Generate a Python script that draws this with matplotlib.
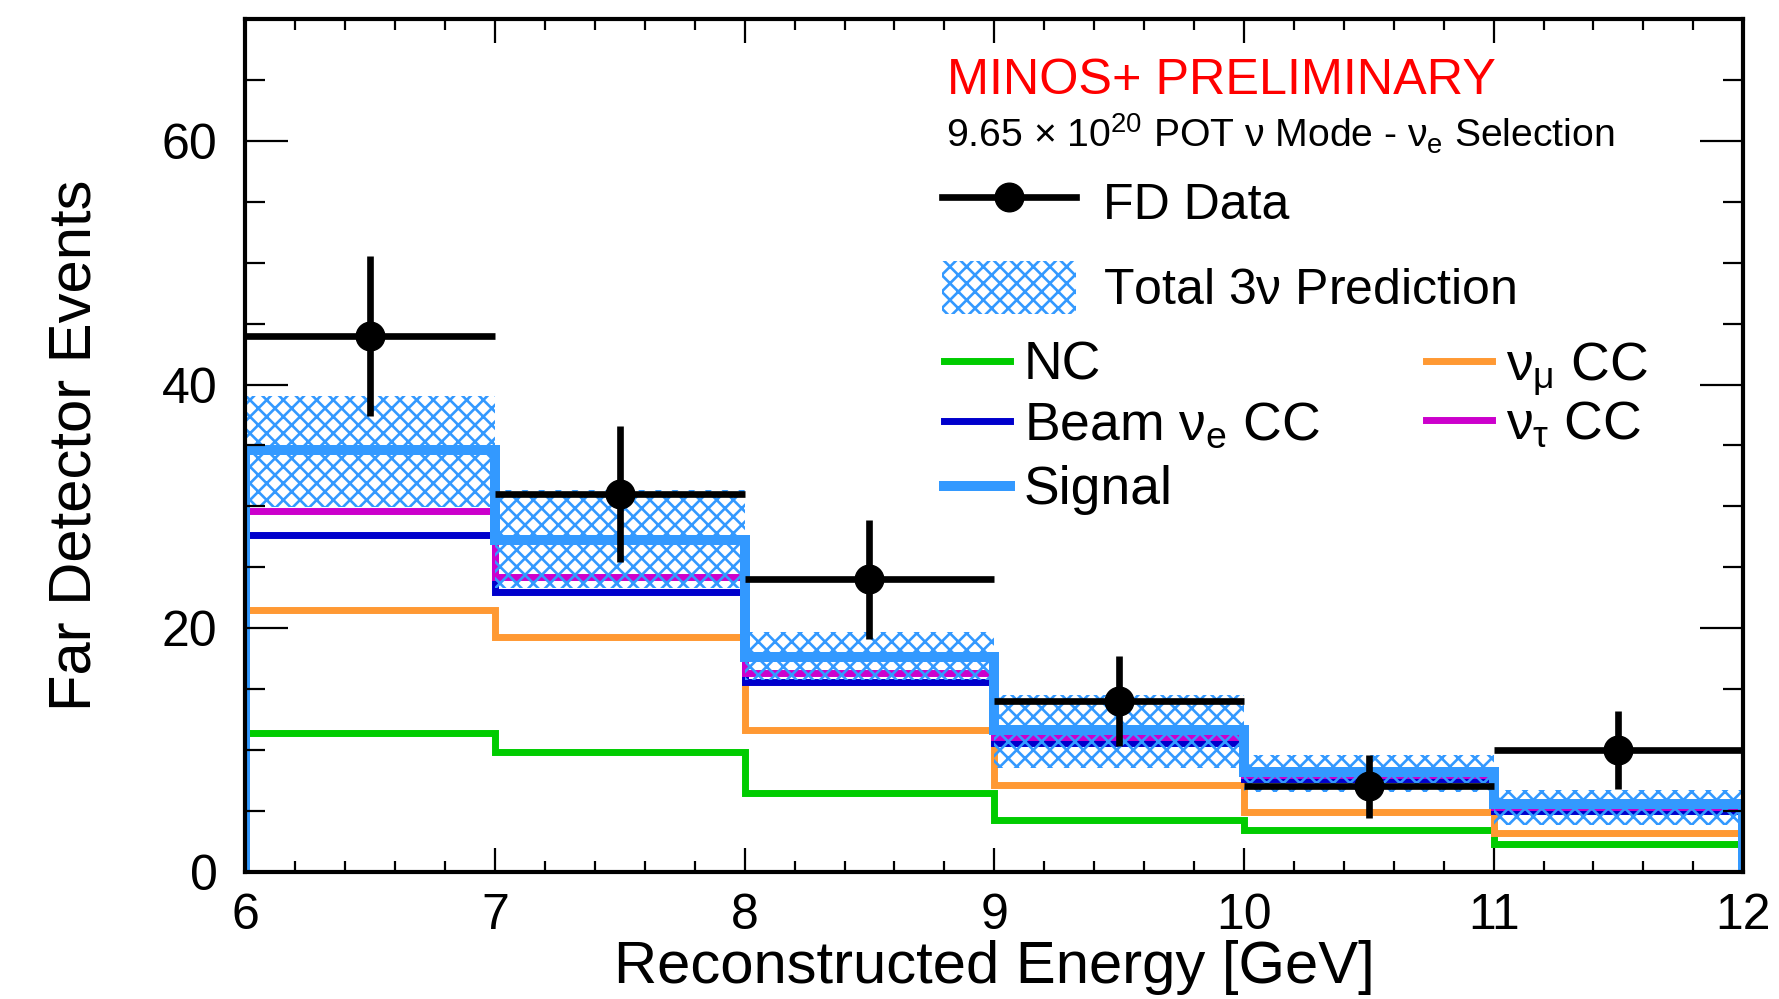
import numpy as np
import matplotlib
matplotlib.use("Agg")
import matplotlib.pyplot as plt
from matplotlib.lines import Line2D
from matplotlib.patches import Patch
from matplotlib.ticker import MultipleLocator

# ---- data -------------------------------------------------------------
bin_edges = [6, 7, 8, 9, 10, 11, 12]

# Far Detector data (event counts) and their statistical errors
data_counts = [44, 31, 24, 14, 7, 10]
data_errors = [6.6, 5.6, 4.9, 3.7, 2.6, 3.2]

# Prediction components (stacked in this order)
nc_cc = [11.40, 9.83, 6.46, 4.25, 3.42, 2.27]
numu_cc = [10.07, 9.45, 5.18, 2.87, 1.50, 0.91]
beam_nue_cc = [6.19, 3.70, 3.90, 3.45, 2.69, 1.80]
nutau_cc = [1.97, 1.22, 0.78, 0.49, 0.33, 0.33]
signal = [5.01, 3.04, 1.31, 0.58, 0.27, 0.25]

# Total 3-flavour prediction uncertainty band (lower / upper edges)
band_low = [29.95, 23.27, 15.74, 8.52, 6.55, 3.84]
band_high = [39.07, 31.35, 19.68, 14.51, 9.58, 6.75]

y_ticks = [0, 20, 40, 60]

# ---- style ------------------------------------------------------------
plt.rcParams["font.family"] = ["Liberation Sans", "DejaVu Sans"]
plt.rcParams["mathtext.fontset"] = "custom"
plt.rcParams["mathtext.rm"] = "Liberation Sans"
plt.rcParams["mathtext.it"] = "Liberation Sans"
plt.rcParams["mathtext.bf"] = "Liberation Sans"
plt.rcParams["hatch.linewidth"] = 1.9

C_NC = "#00CC00"
C_NUMU = "#FF9933"
C_BEAM = "#0000CC"
C_TAU = "#CC00CC"
C_SIG = "#3399FF"

LW = 5.0
LW_SIG = 7.2

fig = plt.figure(figsize=(17.79, 9.99), dpi=100)
ax = fig.add_axes([0.13789, 0.12743, 0.84204, 0.85325])

edges = np.array(bin_edges, dtype=float)
components = np.array([nc_cc, numu_cc, beam_nue_cc, nutau_cc, signal])
stacked = np.cumsum(components, axis=0)
colors = [C_NC, C_NUMU, C_BEAM, C_TAU, C_SIG]
widths = [LW, LW, LW, LW, LW_SIG]

for level, col, lw in zip(stacked, colors, widths):
    ax.stairs(level, edges, baseline=0, fill=False, color=col, lw=lw, zorder=1)

# uncertainty band on the total prediction
ax.stairs(band_high, edges, baseline=band_low, fill=True, facecolor="none",
          edgecolor=C_SIG, lw=0, hatch="xx", zorder=1.5)

# data points
centers = 0.5 * (edges[:-1] + edges[1:])
half_w = 0.5 * np.diff(edges)
ax.errorbar(centers, data_counts, xerr=half_w, yerr=data_errors, fmt="o",
            color="black", ms=20.6, elinewidth=4.8, capsize=0, zorder=3)

# ---- axes -------------------------------------------------------------
ax.set_xlim(6, 12)
ax.set_ylim(0, 70)
ax.xaxis.set_major_locator(MultipleLocator(1))
ax.xaxis.set_minor_locator(MultipleLocator(0.2))
ax.set_yticks(y_ticks)
ax.yaxis.set_minor_locator(MultipleLocator(5))
ax.tick_params(which="both", direction="in", top=True, right=True,
               width=1.6, color="black")
ax.tick_params(axis="x", which="major", length=17.3, labelsize=36, pad=15)
ax.tick_params(axis="x", which="minor", length=8)
ax.tick_params(axis="y", which="major", length=31, labelsize=36, pad=20)
ax.tick_params(axis="y", which="minor", length=14.4)
for sp in ax.spines.values():
    sp.set_linewidth(3.0)

ax.set_xlabel("Reconstructed Energy [GeV]", fontsize=43)
ax.xaxis.set_label_coords(0.5, -0.080)
ax.set_ylabel("Far Detector Events", fontsize=43)
ax.yaxis.set_label_coords(-0.095, 0.5)

# ---- annotations ------------------------------------------------------
ax.text(0.4685, 0.9121, "MINOS+ PRELIMINARY", color="#FF0000", fontsize=36.3,
        transform=ax.transAxes, ha="left", va="baseline")
ax.text(0.4678, 0.8496,
        r"9.65 $\times$ 10$^{20}$ POT $\nu$ Mode - $\nu_{e}$ Selection",
        fontsize=28.2, transform=ax.transAxes, ha="left", va="baseline")

# ---- legends ----------------------------------------------------------
h_data = Line2D([], [], color="black", lw=4.8, marker="o", ms=20.6)
h_band = Patch(facecolor="none", edgecolor=C_SIG, lw=0, hatch="xx")
leg_a = ax.legend([h_data, h_band], ["FD Data", r"Total 3$\nu$ Prediction"],
                  loc="upper left", bbox_to_anchor=(0.4649, 0.8170),
                  fontsize=36, frameon=False, borderpad=0, borderaxespad=0,
                  handlelength=2.68, handleheight=1.25, handletextpad=0.545,
                  labelspacing=0.65)
ax.add_artist(leg_a)

h_nc = Line2D([], [], color=C_NC, lw=LW)
h_beam = Line2D([], [], color=C_BEAM, lw=LW)
h_sig = Line2D([], [], color=C_SIG, lw=LW_SIG)
h_numu = Line2D([], [], color=C_NUMU, lw=LW)
h_tau = Line2D([], [], color=C_TAU, lw=LW)

common = dict(fontsize=38.5, frameon=False, borderpad=0, borderaxespad=0,
              handlelength=1.23, handletextpad=0.26, loc="upper left")
leg_b1 = ax.legend([h_nc, h_beam], ["NC", r"Beam $\nu_{e}$ CC"],
                   bbox_to_anchor=(0.4664, 0.6229), labelspacing=0.18, **common)
ax.add_artist(leg_b1)
leg_b2 = ax.legend([h_numu, h_tau], [r"$\nu_{\mu}$ CC", r"$\nu_{\tau}$ CC"],
                   bbox_to_anchor=(0.7882, 0.6229), labelspacing=0.04, **common)
ax.add_artist(leg_b2)
ax.legend([h_sig], ["Signal"], bbox_to_anchor=(0.4664, 0.4768), **common)

fig.savefig("out.png", dpi=100)
